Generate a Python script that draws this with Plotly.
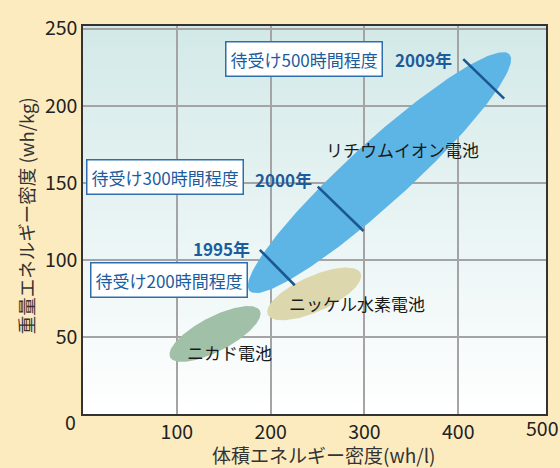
import numpy as np
import plotly.graph_objects as go

# ---------------- data ----------------
batteries = ["ニカド電池", "ニッケル水素電池", "リチウムイオン電池"]
# ellipse centre (volumetric wh/l, gravimetric wh/kg)
center_vol = [140.7, 246.4, 316.0]
center_grav = [51.9, 77.9, 156.6]
# half major-axis vector (wh/l, wh/kg)
major_vol = [47.8, 49.5, 138.5]
major_grav = [15.2, 13.5, 76.8]
# half minor-axis vector (wh/l, wh/kg)
minor_vol = [8.6, 7.9, 22.3]
minor_grav = [-9.9, -10.5, -14.6]

years = ["1995年", "2000年", "2009年"]
year_vol_start = [188.5, 250.2, 405.3]
year_grav_start = [106.5, 147.5, 230.2]
year_vol_end = [225.7, 299.0, 448.9]
year_grav_end = [83.5, 118.7, 204.6]
standby = ["待受け200時間程度", "待受け300時間程度", "待受け500時間程度"]

x_ticks = [100, 200, 300, 400]
y_ticks = [50, 100, 150, 200, 250]

# ---------------- style ----------------
FONT = "Noto Sans CJK JP"
fills = ["#A0C0A8", "#DDD7AD", "#5DB5E6"]
line_col = "#1B5791"
text_blue = "#1D5C9C"

fig = go.Figure()

t = np.linspace(0, 2 * np.pi, 240)
for i, name in enumerate(batteries):
    xs = center_vol[i] + major_vol[i] * np.cos(t) + minor_vol[i] * np.sin(t)
    ys = center_grav[i] + major_grav[i] * np.cos(t) + minor_grav[i] * np.sin(t)
    fig.add_trace(go.Scatter(x=xs, y=ys, mode="lines", fill="toself",
                             fillcolor=fills[i], line=dict(width=0),
                             hoverinfo="skip", showlegend=False))

for i, yr in enumerate(years):
    fig.add_trace(go.Scatter(x=[year_vol_start[i], year_vol_end[i]],
                             y=[year_grav_start[i], year_grav_end[i]],
                             mode="lines", line=dict(color=line_col, width=2.6),
                             hoverinfo="skip", showlegend=False))

# gradient background of plot area
N = 80
top = np.array([210, 233, 232])
bot = np.array([255, 255, 255])
shapes = []
for k in range(N):
    f = (k + 0.5) / N  # 0 bottom -> 1 top
    c = bot + (top - bot) * f
    shapes.append(dict(type="rect", xref="paper", yref="paper",
                       x0=0, x1=1, y0=k / N, y1=(k + 1) / N + 0.002,
                       fillcolor="rgb(%d,%d,%d)" % tuple(c.round().astype(int)),
                       line=dict(width=0), layer="below"))

ann = []
# ellipse labels
label_pos = [(156.6, 39.9), (291.6, 72.0), (340.5, 171.3)]
for name, (x, y) in zip(batteries, label_pos):
    ann.append(dict(x=x, y=y, text=name, showarrow=False,
                    font=dict(family=FONT, size=17, color="#1a1a1a")))
# year labels
year_pos = [(147.6, 107.2), (214.0, 152.1), (362.7, 230.2)]
for yr, (x, y) in zip(years, year_pos):
    ann.append(dict(x=x, y=y, text="<b>%s</b>" % yr, showarrow=False,
                    font=dict(family=FONT, size=17, color=text_blue)))
# standby boxes
box_pos = [(91.8, 87.1), (87.6, 153.7), (235.8, 230.0)]
for s, (x, y) in zip(standby, box_pos):
    ann.append(dict(x=x, y=y, text=s, showarrow=False,
                    font=dict(family=FONT, size=17, color=text_blue),
                    bgcolor="white", bordercolor="#2F6EAD", borderwidth=1.5,
                    borderpad=4))
# origin label, last x tick label and axis titles
ann.append(dict(xref="paper", yref="paper", x=-0.026, y=-0.02, text="0",
                xanchor="center", yanchor="middle",
                showarrow=False, font=dict(family=FONT, size=19.5, color="#222")))
ann.append(dict(xref="paper", yref="paper", x=0.991, y=-0.036, text="500",
                xanchor="center", yanchor="middle",
                showarrow=False, font=dict(family=FONT, size=19.5, color="#222")))
ann.append(dict(xref="paper", yref="paper", x=0.519, y=-0.104,
                xanchor="center", yanchor="middle", borderpad=0,
                text="体積エネルギー密度(wh/l)", showarrow=False,
                font=dict(family=FONT, size=19, color="#333")))
ann.append(dict(xref="paper", yref="paper", x=-0.123, y=0.51, textangle=-90,
                xanchor="center", yanchor="middle",
                text="重量エネルギー密度 (wh/kg)", showarrow=False,
                font=dict(family=FONT, size=18.5, color="#333")))

fig.update_layout(
    width=560, height=468,
    margin=dict(l=83, r=13, t=22, b=54),
    paper_bgcolor="#FDEBC0",
    plot_bgcolor="rgba(0,0,0,0)",
    shapes=shapes,
    annotations=ann,
    font=dict(family=FONT, size=18, color="#222"),
    xaxis=dict(range=[0, 493.5], tickvals=x_ticks,
               showgrid=True, gridcolor="#A4A4A4", gridwidth=1.5,
               zeroline=False, showline=True, mirror=True,
               linecolor="#333", linewidth=1.5, ticks="",
               tickfont=dict(family=FONT, size=19.5, color="#222")),
    yaxis=dict(range=[0, 251.7], tickvals=y_ticks,
               showgrid=True, gridcolor="#A4A4A4", gridwidth=1.5,
               zeroline=False, showline=True, mirror=True,
               linecolor="#333", linewidth=1.5, ticks="",
               tickfont=dict(family=FONT, size=19.5, color="#222")),
)

fig.write_html("out.html")
